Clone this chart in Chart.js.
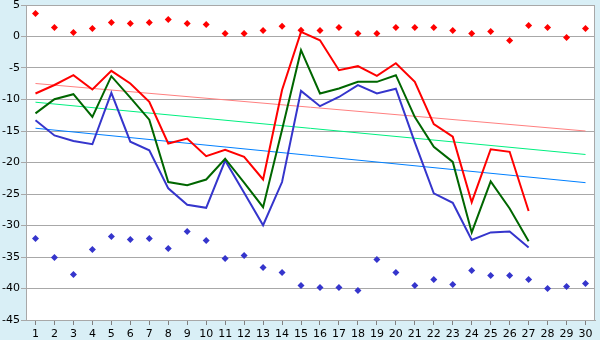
<!DOCTYPE html>
<html>
<head>
<meta charset="utf-8">
<script src="https://cdn.jsdelivr.net/npm/chart.js@4.4.0/dist/chart.umd.min.js"></script>
<style>
  html, body { margin: 0; padding: 0; background: #d9eff6; }
  #wrap { width: 600px; height: 340px; position: relative; }
</style>
</head>
<body>
<div id="wrap"><canvas id="grafico"></canvas></div>
<script>
// días del mes (eje X)
const dias = ['1','2','3','4','5','6','7','8','9','10','11','12','13','14','15',
              '16','17','18','19','20','21','22','23','24','25','26','27','28','29','30'];

// marcas sueltas superiores e inferiores
const puntosRojos = [3.65, 1.43, 0.63, 1.27, 2.22, 2.06, 2.22, 2.70, 2.06, 1.9,
                     0.48, 0.48, 0.95, 1.63, 1.0, 0.95, 1.43, 0.48, 0.48, 1.43,
                     1.43, 1.43, 0.95, 0.48, 0.79, -0.63, 1.75, 1.43, -0.16, 1.27];
const puntosAzules = [-32.06, -35.08, -37.78, -33.81, -31.75, -32.22, -32.06, -33.65, -30.95, -32.38,
                      -35.24, -34.76, -36.67, -37.46, -39.52, -39.84, -39.84, -40.3, -35.4, -37.46,
                      -39.52, -38.57, -39.37, -37.14, -37.94, -37.94, -38.57, -40.0, -39.68, -39.21];

// series principales (días 1-27)
const serieRoja = [-9.05, -7.7, -6.14, -8.41, -5.46, -7.46, -10.38, -16.98, -16.19, -19.0,
                   -18.0, -19.1, -22.7, -8.5, 0.73, -0.59, -5.35, -4.71, -6.25, -4.25,
                   -7.2, -13.9, -15.9, -26.3, -17.9, -18.3, -27.7];
const serieVerde = [-12.2, -9.95, -9.16, -12.76, -6.3, -9.7, -13.2, -23.1, -23.6, -22.7,
                    -19.4, -23.2, -27.1, -14.8, -2.17, -9.05, -8.25, -7.2, -7.2, -6.14,
                    -12.8, -17.5, -19.9, -31.1, -23.0, -27.3, -32.5];
const serieAzul = [-13.3, -15.7, -16.6, -17.1, -8.95, -16.7, -18.05, -24.1, -26.7, -27.2,
                   -19.7, -24.8, -29.95, -23.1, -8.63, -11.06, -9.6, -7.73, -9.05, -8.3,
                   -16.8, -24.9, -26.4, -32.3, -31.1, -30.95, -33.5];

// tendencias: valor en el día 1 y en el día 30
const tendRoja = [-7.46, -15.0];
const tendVerde = [-10.43, -18.73];
const tendAzul = [-14.56, -23.2];

const ticksY = { min: -45, max: 5, paso: 5 };

function tramo(extremos) {
    return [{ x: dias[0], y: extremos[0] }, { x: dias[dias.length - 1], y: extremos[1] }];
}

function linea(data, color) {
    return { type: 'line', data: data, borderColor: color, backgroundColor: color,
             borderWidth: 2, pointRadius: 0, tension: 0, fill: false };
}

function tendencia(extremos, color) {
    return { type: 'line', data: tramo(extremos), borderColor: color,
             borderWidth: 1, pointRadius: 0, tension: 0, fill: false };
}

function marcas(data, color) {
    return { type: 'line', data: data, showLine: false, pointStyle: 'rectRot',
             pointRadius: 3.5, pointBorderWidth: 0, pointBackgroundColor: color,
             borderColor: color, backgroundColor: color };
}

// marco gris alrededor del área de trazado
const marco = {
    id: 'marco',
    beforeDraw(chart) {
        const { ctx, chartArea: a } = chart;
        ctx.save();
        ctx.fillStyle = '#ffffff';
        ctx.fillRect(a.left, a.top, a.right - a.left, a.bottom - a.top);
        ctx.restore();
    },
    afterDraw(chart) {
        const { ctx, chartArea: a } = chart;
        ctx.save();
        ctx.strokeStyle = '#a8a8a8';
        ctx.lineWidth = 1;
        ctx.strokeRect(a.left + 0.5, a.top + 0.5, a.right - a.left - 1, a.bottom - a.top);
        ctx.restore();
    }
};

const fuente = { family: 'DejaVu Sans', size: 11 };

new Chart(document.getElementById('grafico'), {
    data: {
        labels: dias,
        datasets: [
            linea(serieRoja, '#ff0000'),
            linea(serieVerde, '#006600'),
            linea(serieAzul, '#3535cc'),
            marcas(puntosRojos, '#ff0000'),
            marcas(puntosAzules, '#3535cc'),
            tendencia(tendRoja, '#ff8080'),
            tendencia(tendVerde, '#00f080'),
            tendencia(tendAzul, '#0080ff')
        ]
    },
    options: {
        responsive: true,
        maintainAspectRatio: false,
        animation: false,
        layout: { padding: { top: 5, right: 5, left: 0, bottom: 0 } },
        plugins: { legend: { display: false }, tooltip: { enabled: false } },
        scales: {
            x: {
                offset: true,
                grid: { drawOnChartArea: false, drawTicks: true, tickLength: 5,
                        color: '#808080', offset: false },
                border: { color: '#a8a8a8' },
                ticks: { color: '#000', font: fuente, padding: 3,
                         maxRotation: 0, autoSkip: false },
                afterFit(scale) {
                    scale.height = 20;
                    scale.paddingLeft = 0;
                    scale.paddingRight = 0;
                }
            },
            y: {
                min: ticksY.min,
                max: ticksY.max,
                grid: { color: '#a8a8a8', tickLength: 5 },
                border: { color: '#a8a8a8' },
                ticks: { stepSize: ticksY.paso, color: '#000', padding: 1, font: fuente },
                afterFit(scale) {
                    scale.width = 26;
                    scale.paddingTop = 0;
                    scale.paddingBottom = 0;
                }
            }
        }
    },
    plugins: [marco]
});
</script>
</body>
</html>
